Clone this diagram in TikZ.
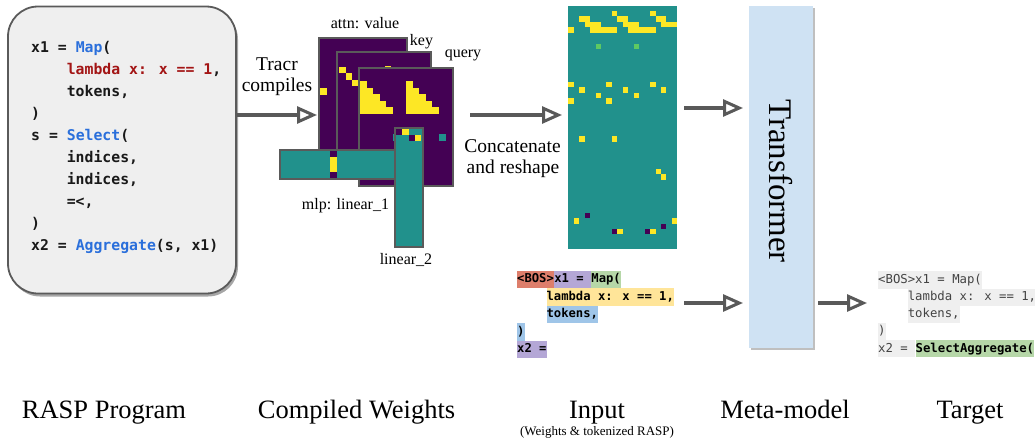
\documentclass[tikz,border=0pt]{standalone}
\usepackage{fontspec}
\setmainfont{Liberation Serif}
\newfontfamily\codefont{DejaVu Sans Mono}
\usetikzlibrary{arrows.meta,shadows}
\definecolor{vpurple}{HTML}{440154}
\definecolor{vyellow}{HTML}{FDE725}
\definecolor{vteal}{HTML}{21918C}
\definecolor{vgreen}{HTML}{5EC962}
\definecolor{codeblue}{HTML}{2A6FDB}
\definecolor{codered}{HTML}{A31515}
\definecolor{boxgray}{HTML}{EFEFEF}
\definecolor{edgegray}{HTML}{5A5A5A}
\definecolor{arrowgray}{HTML}{595959}
\definecolor{tfblue}{HTML}{CFE2F3}
\definecolor{bosred}{HTML}{DD7E6B}
\definecolor{lav}{HTML}{B4A7D6}
\definecolor{mapgreen}{HTML}{B6D7A8}
\definecolor{lamyellow}{HTML}{FFE599}
\definecolor{tokblue}{HTML}{9FC5E8}
\definecolor{tgtgray}{HTML}{EFEFEF}
\definecolor{tgttext}{HTML}{434343}
\tikzset{
  arr/.style={draw=arrowgray, line width=3.5pt, -{Triangle[length=20pt,width=17pt,fill=white,line width=3pt]}},
  codebox/.style={draw=edgegray, line width=1.8pt, fill=boxgray, rounded corners=30pt,
    minimum width=228pt, minimum height=287pt, inner sep=0pt,
    drop shadow={shadow xshift=2pt, shadow yshift=-3pt, opacity=0.35, fill=black}},
  codeln/.style={font=\codefont\bfseries\fontsize{14.8}{18}\selectfont, anchor=base west, inner sep=0pt, text=black!90},
  mat/.style={draw=edgegray, line width=1.2pt, fill=vpurple, inner sep=0pt},
  bar/.style={draw=edgegray, line width=1.2pt, fill=vteal, inner sep=0pt},
  lbl/.style={font=\fontsize{16}{18}\selectfont, anchor=base, inner sep=0pt},
  midlbl/.style={font=\fontsize{19.5}{22}\selectfont, anchor=base, inner sep=0pt},
  biglbl/.style={font=\fontsize{26.5}{30}\selectfont, anchor=base, inner sep=0pt},
  tok/.style={font=\codefont\bfseries\fontsize{12.2}{14}\selectfont, inner sep=0pt, text height=12pt, text depth=5.5pt, anchor=west, text=black},
  tgt/.style={font=\codefont\fontsize{12.3}{14}\selectfont, inner sep=0pt, text height=12pt, text depth=5.3pt, anchor=west, text=tgttext, fill=tgtgray},
  tfbox/.style={fill=tfblue, minimum width=64pt, minimum height=342pt, inner sep=0pt,
    drop shadow={shadow xshift=1.5pt, shadow yshift=-2pt, opacity=0.25, fill=black}},
}
\begin{document}
\begin{tikzpicture}[x=1pt,y=-1pt]
\useasboundingbox (0,0) rectangle (1035,439);
\clip (0,0) rectangle (1035,439);

% ---------- RASP program ----------
\node[codebox] (code) at (122,150) {};
\node[codeln] (c1) at (31,52.5) {x1 = \textcolor{codeblue}{Map}(};
\node[codeln] (c2) at (66.6,74.5) {\textcolor{codered}{lambda x: x == 1},};
\node[codeln] (c3) at (66.6,96.5) {tokens,};
\node[codeln] (c4) at (31,118.5) {)};
\node[codeln] (c5) at (31,140.5) {s = \textcolor{codeblue}{Select}(};
\node[codeln] (c6) at (66.6,162.5) {indices,};
\node[codeln] (c7) at (66.6,184.5) {indices,};
\node[codeln] (c8) at (66.6,206.5) {=<,};
\node[codeln] (c9) at (31,228.5) {)};
\node[codeln] (c10) at (31,250.5) {x2 = \textcolor{codeblue}{Aggregate}(s, x1)};

% ---------- compile arrow ----------
\coordinate (a1e) at (317,115);
\draw[arr] (code.east |- a1e) -- (a1e);
\node[midlbl] (tr1) at (277,70) {Tracr};
\node[midlbl] (tr2) at (277,91) {compiles};

% ---------- compiled weights ----------
\node[mat, minimum width=88pt, minimum height=132pt] (mval) at (363,104) {};
\fill[vyellow] (320,88) rectangle ++(6.5,6.5);
\node[mat, minimum width=94pt, minimum height=123pt] (mkey) at (384,113.5) {};
\foreach \i in {0,...,3} \fill[vyellow] (339+6.5*\i, 66.5+6.5*\i) rectangle ++(6.5,6.5);
\fill[vyellow] (384.5,66) rectangle ++(6.5,6.5);
\node[mat, minimum width=94pt, minimum height=118pt] (mqry) at (406,127) {};
\foreach \r in {0,...,4} {
  \fill[vyellow] (360, 81+6.5*\r) rectangle ++(6.5*\r+6.5, 6.5);
  \fill[vyellow] (406, 81+6.5*\r) rectangle ++(6.5*\r+6.5, 6.5);
}
\fill[vteal] (393,134) rectangle ++(6.5,6.5);
\fill[vteal] (439,134) rectangle ++(6.5,6.5);

\node[bar, minimum width=115pt, minimum height=29pt] (lin1) at (337.5,164.5) {};
\fill[vpurple] (330,150.6) rectangle (336.8,157.3);
\fill[vyellow] (330,157.3) rectangle (336.8,171.7);
\fill[vpurple] (330,171.7) rectangle (336.8,178.4);

\node[bar, minimum width=28pt, minimum height=119pt] (lin2) at (409,187.5) {};
\fill[vpurple] (395.6,128.6) rectangle (402,134.5);
\fill[vyellow] (402,128.6) rectangle (408.5,134.5);
\fill[vpurple] (408.5,134.5) rectangle (414.8,140.8);
\fill[vyellow] (414.8,134.5) rectangle (421,140.8);

\node[lbl] (lval) at (365,28) {attn: value};
\node[lbl] (lkey) at (421.5,45) {key};
\node[lbl] (lqry) at (463,57) {query};
\node[lbl] (lmlp) at (345.5,209) {mlp: linear\_1};
\node[lbl] (llin2) at (406,264) {linear\_2};

% ---------- concatenate arrow ----------
\coordinate (a2s) at (470,115);
\coordinate (a2e) at (562,115);
\draw[arr] (a2s) -- (a2e);
\node[midlbl] (cc1) at (512.5,152) {Concatenate};
\node[midlbl] (cc2) at (513,173.5) {and reshape};

% ---------- heatmap ----------
\node[fill=vteal, minimum width=109pt, minimum height=243pt, inner sep=0pt] (heat) at (622.5,127.5) {};
\foreach \c/\r in {8/1,15/1, 2/2,3/2,9/2,10/2,16/2,17/2,
  3/3,4/3,5/3,10/3,11/3,12/3,17/3,18/3,19/3,
  0/4,4/4,5/4,6/4,7/4,8/4,11/4,12/4,13/4,14/4,15/4,
  0/14,7/14,15/14, 2/15,10/15,17/15, 5/16,12/16, 0/17,7/17,
  2/24,8/24, 16/30,17/31, 1/39,19/39, 9/41,15/41}
  \fill[vyellow] (568.3+5.45*\c, 5.5+5.45*\r) rectangle ++(5.45,5.45);
\foreach \c/\r in {5/7,12/7}
  \fill[vgreen] (568.3+5.45*\c, 5.5+5.45*\r) rectangle ++(5.45,5.45);
\foreach \c/\r in {3/38,17/40,8/41,14/41}
  \fill[vpurple] (568.3+5.45*\c, 5.5+5.45*\r) rectangle ++(5.45,5.45);

% ---------- tokenized input ----------
\node[tok, fill=bosred] (bos) at (517,279.5) {<BOS>};
\node[tok, fill=lav] (ix1) at (bos.east) {x1 =\hphantom{x}};
\node[tok, fill=mapgreen] (imap) at (ix1.east) {Map(};
\node[tok, fill=lamyellow] (ilam) at (546.4,297) {lambda x: x == 1,};
\node[tok, fill=tokblue] (itok) at (546.4,314.5) {tokens,};
\node[tok, fill=tokblue] (ipar) at (517,332) {)};
\node[tok, fill=lav] (ix2) at (517,349.5) {x2 =};

% ---------- transformer ----------
\node[tfbox] (tf) at (781,177) {};
\node[rotate=-90, font=\fontsize{33}{36}\selectfont, inner sep=0pt] (tftext) at (781,181) {Transformer};

\coordinate (a3s) at (684,108);
\coordinate (a3e) at (743,108);
\draw[arr] (a3s) -- (a3e);
\coordinate (a4s) at (684,303);
\coordinate (a4e) at (743,303);
\draw[arr] (a4s) -- (a4e);
\coordinate (a5s) at (818,303);
\coordinate (a5e) at (867,303);
\draw[arr] (a5s) -- (a5e);

% ---------- target ----------
\node[tgt] (t1) at (878,280) {<BOS>x1 = Map(};
\node[tgt] (t2) at (907.6,297.2) {lambda x: x == 1,};
\node[tgt] (t3) at (907.6,314.4) {tokens,};
\node[tgt] (t4) at (878,331.6) {)};
\node[tgt] (t5) at (878,348.8) {x2 =\hphantom{x}};
\node[tgt, fill=mapgreen, text=black, font=\codefont\bfseries\fontsize{12.3}{14}\selectfont] (t6) at (t5.east) {SelectAggregate(};

% ---------- bottom captions ----------
\node[biglbl] (cap1) at (104,418) {RASP Program};
\node[biglbl] (cap2) at (356.5,418) {Compiled Weights};
\node[biglbl] (cap3) at (597,418) {Input};
\node[font=\fontsize{13}{15}\selectfont, anchor=base, inner sep=0pt] (cap3b) at (597,435) {(Weights \& tokenized RASP)};
\node[biglbl] (cap4) at (785,418) {Meta-model};
\node[biglbl] (cap5) at (970,418) {Target};
\end{tikzpicture}
\end{document}
